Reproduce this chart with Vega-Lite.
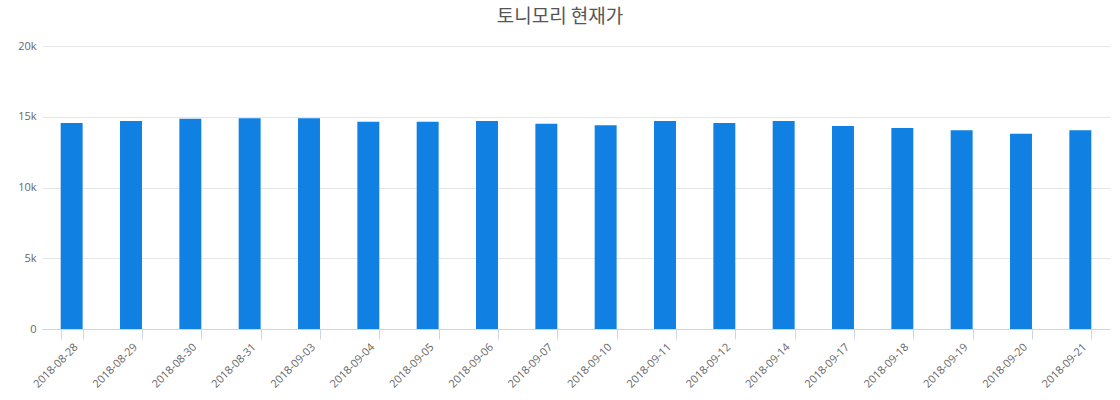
{
  "$schema": "https://vega.github.io/schema/vega-lite/v6.json",
  "width": 1068,
  "height": 283,
  "autosize": "none",
  "padding": {"left": 42, "top": 46, "right": 10, "bottom": 71},
  "title": {
    "text": "토니모리 현재가",
    "font": "Noto Sans CJK KR",
    "fontSize": 19,
    "fontWeight": "normal",
    "color": "#555555",
    "offset": 13,
    "dx": -16
  },
  "config": {
    "view": {"stroke": null},
    "axis": {"labelFont": "Open Sans", "labelFontSize": 11, "labelColor": "#666666"}
  },
  "data": {
    "values": [
      {"date": "2018-08-28", "price": 14550},
      {"date": "2018-08-29", "price": 14700},
      {"date": "2018-08-30", "price": 14850},
      {"date": "2018-08-31", "price": 14900},
      {"date": "2018-09-03", "price": 14900},
      {"date": "2018-09-04", "price": 14650},
      {"date": "2018-09-05", "price": 14650},
      {"date": "2018-09-06", "price": 14700},
      {"date": "2018-09-07", "price": 14500},
      {"date": "2018-09-10", "price": 14400},
      {"date": "2018-09-11", "price": 14700},
      {"date": "2018-09-12", "price": 14550},
      {"date": "2018-09-14", "price": 14700},
      {"date": "2018-09-17", "price": 14350},
      {"date": "2018-09-18", "price": 14200},
      {"date": "2018-09-19", "price": 14050},
      {"date": "2018-09-20", "price": 13800},
      {"date": "2018-09-21", "price": 14050}
    ]
  },
  "mark": {"type": "bar", "color": "#1180e3"},
  "encoding": {
    "x": {
      "field": "date",
      "type": "ordinal",
      "title": null,
      "scale": {"paddingInner": 0.63, "paddingOuter": 0.315},
      "axis": {
        "labelAngle": -45,
        "tickBand": "extent",
        "tickSize": 10,
        "tickColor": "#ccd6eb",
        "domainColor": "#ccd6eb",
        "labelPadding": 2
      }
    },
    "y": {
      "field": "price",
      "type": "quantitative",
      "title": null,
      "scale": {"domain": [0, 20000]},
      "axis": {
        "values": [0, 5000, 10000, 15000, 20000],
        "labelExpr": "datum.value == 0 ? '0' : (datum.value / 1000) + 'k'",
        "domain": false,
        "ticks": false,
        "gridColor": "#e6e6e6",
        "labelPadding": 6
      }
    }
  }
}
